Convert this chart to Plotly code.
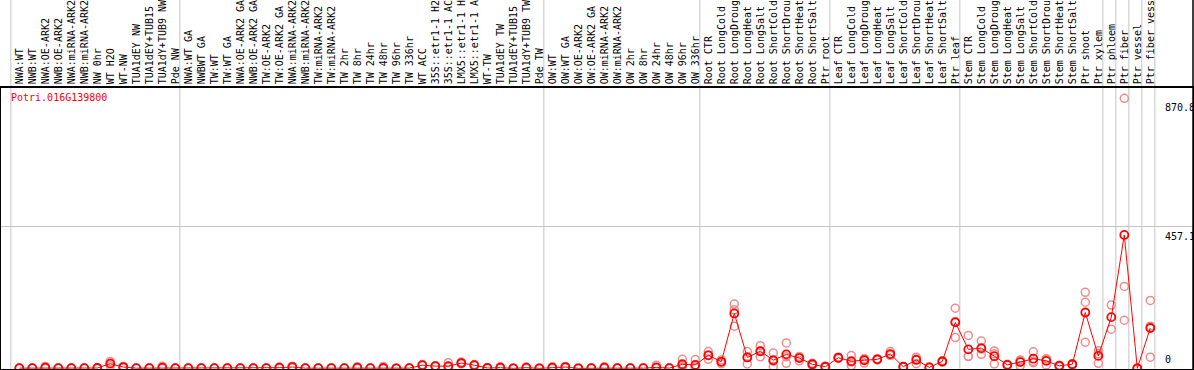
import plotly.graph_objects as go

gene = "Potri.016G139800"

g_nw = ["NWA:WT", "NWB:WT", "NWA:OE-ARK2", "NWB:OE-ARK2", "NWA:miRNA-ARK2", "NWB:miRNA-ARK2",
        "NW 0hr", "WT H2O", "WT-NW", "TUA1dEY NW", "TUA1dEY+TUB15 NW", "TUA1dY+TUB9 NW", "Pde NW"]
g_tw = ["NWA:WT GA", "NWBWT GA", "TW:WT", "TW:WT GA", "NWA:OE-ARK2 GA", "NWB:OE-ARK2 GA",
        "TW:OE-ARK2", "TW:OE-ARK2 GA", "NWA:miRNA-ARK2", "NWB:miRNA-ARK2", "TW:miRNA-ARK2",
        "TW:miRNA-ARK2", "TW 2hr", "TW 8hr", "TW 24hr", "TW 48hr", "TW 96hr", "TW 336hr", "WT ACC",
        "35S::etr1-1 H2O", "35S::etr1-1 ACC", "LMX5::etr1-1 H2O", "LMX5::etr1-1 ACC", "WT-TW",
        "TUA1dEY TW", "TUA1dEY+TUB15 TW", "TUA1dY+TUB9 TW", "Pde TW"]
g_ow = ["OW:WT", "OW:WT GA", "OW:OE-ARK2", "OW:OE-ARK2 GA", "OW:miRNA-ARK2", "OW:miRNA-ARK2",
        "OW 2hr", "OW 8hr", "OW 24hr", "OW 48hr", "OW 96hr", "OW 336hr"]
g_root = ["Root CTR", "Root LongCold", "Root LongDrought", "Root LongHeat", "Root LongSalt",
          "Root ShortCold", "Root ShortDrought", "Root ShortHeat", "Root ShortSalt", "Ptr root"]
g_leaf = ["Leaf CTR", "Leaf LongCold", "Leaf LongDrought", "Leaf LongHeat", "Leaf LongSalt",
          "Leaf ShortCold", "Leaf ShortDrought", "Leaf ShortHeat", "Leaf ShortSalt", "Ptr leaf"]
g_stem = ["Stem CTR", "Stem LongCold", "Stem LongDrought", "Stem LongHeat", "Stem LongSalt",
          "Stem ShortCold", "Stem ShortDrought", "Stem ShortHeat", "Stem ShortSalt", "Ptr shoot", "Ptr xylem"]
g_p1 = ["Ptr phloem"]
g_p2 = ["Ptr fiber"]
g_p3 = ["Ptr vessel"]
g_p4 = ["Ptr fiber vessel"]
groups = [g_nw, g_tw, g_ow, g_root, g_leaf, g_stem, g_p1, g_p2, g_p3, g_p4]

means = [
    0.5, 0.5, 2, 0.5, 0.5, 0.5, 1, 15, 4, 0.5, 0.5, 2, 0.5,
    0.5, 0.5, 0.5, 0.5, 0.5, 0.5, 0.5, 2, 4, 0.5, 0.5, 0.5, 0.5, 2, 0.5, 1, 0, 0.5, 10, 7, 7, 17, 10, 1, 2, 0, 2, 0,
    2, 4, 0, 0.5, 2, 0.5, 0.5, 0.5, 3, 0.5, 13, 11,
    42, 21, 177, 35, 55, 26, 45, 33, 13, 5,
    34, 23, 26, 29, 46, 5, 27, 3, 22, 148,
    61, 65, 39, 11, 20, 31, 24, 8, 13, 180, 40,
    165, 430, 0, 130]

rep1 = [
    1, 1, 6, 1, 1, 1, 2, 22, 6, 1, 1, 7, 1,
    1, 1, 1, 1, 1, 1, 1, 4, 7, 1, 1, 1, 1, 5, 1, 6, 0, 1, 12, 8, 18, 20, 12, 2, 5, 0, 4, 0,
    5, 6, 0, 1, 5, 1, 1, 1, 10, 1, 29, 28,
    54, 27, 207, 54, 73, 49, 82, 37, 16, 7,
    36, 41, 17, 31, 54, 6, 36, 4, 24, 194,
    106, 88, 56, 13, 27, 53, 11, 10, 15, 245, 57,
    204, 870.8, 0, 219]

rep2 = [
    0, 0, 0, 0, 0, 0, 0, 16, 2, 0, 0, 0, 0,
    0, 0, 0, 0, 0, 0, 0, 1, 2, 0, 0, 0, 0, 0, 0, 0, 0, 0, 8, 6, 3, 14, 8, 0, 0, 0, 0, 0,
    0, 2, 0, 0, 0, 0, 0, 0, 0, 0, 3, 2,
    29, 15, 189, 14, 37, 6, 16, 24, 10, 3,
    32, 8, 30, 27, 42, 4, 15, 2, 20, 99,
    39, 45, 14, 9, 8, 18, 30, 6, 11, 213, 16,
    126, 264, 0, 136]

rep3 = [
    None, None, None, None, None, None, None, 8, None, None, None, None, None,
    None, None, None, None, None, None, None, None, None, None, None, None, None, None, None, None,
    None, None, None, None, None, None, None, None, None, None, None, None,
    None, None, None, None, None, None, None, None, None, None, 8, 4,
    43, 21, 136, 37, 55, 23, 37, 38, 13, None,
    34, 20, 31, None, 42, None, 30, None, None, 151,
    38, 62, 47, None, 25, 22, 31, None, None, 84, 47,
    None, 155, None, 36]

y_marks = [870.8, 457.1, 0]

# ---------------- layout geometry ----------------
W, H = 1194, 370
L, R, T, B = 1, 1, 88, 1
first_px, step_px = 19.3, 13.0       # pixel centre of first category, spacing
zero_px, max_px = 368.3, 98.3        # pixel rows of value 0 and of the maximum mark
plot_h = H - T - B

labels = [lab for g in groups for lab in g]
xs = list(range(len(labels)))

xr = [(L - first_px) / step_px, (W - R - first_px) / step_px]
k = (zero_px - max_px) / max(y_marks)
yr = [(zero_px - (H - B)) / k, (zero_px - T) / k]

RED = "#FF0000"
PINK = "rgb(238,140,140)"
GRID = "#C4C4C4"
FONT = "DejaVu Sans Mono"

rx, ry = [], []
for arr in (rep1, rep2, rep3):
    for i, v in enumerate(arr):
        if v is not None:
            rx.append(i)
            ry.append(v)

fig = go.Figure()
fig.add_trace(go.Scatter(x=rx, y=ry, mode="markers",
                         marker=dict(symbol="circle-open", size=8, color=PINK, line=dict(width=1.5, color=PINK)),
                         hoverinfo="skip", showlegend=False))
fig.add_trace(go.Scatter(x=xs, y=means, mode="lines+markers",
                         line=dict(color=RED, width=1),
                         marker=dict(symbol="circle-open", size=8, color=RED, line=dict(width=1.8, color=RED)),
                         showlegend=False))

top_paper = (H - B) / plot_h  # paper y of image top
shapes = []
start = 0
bounds = [0]
for g in groups:
    start += len(g)
    bounds.append(start)
for b in bounds:
    shapes.append(dict(type="line", xref="x", yref="paper", x0=b - 0.65, x1=b - 0.65,
                       y0=0, y1=top_paper, line=dict(color=GRID, width=1), layer="below"))
shapes.append(dict(type="line", xref="paper", yref="paper", x0=1, x1=1, y0=0, y1=top_paper,
                   line=dict(color="black", width=1.5)))

annotations = [dict(text=gene, xref="paper", yref="paper", x=(9 - L) / (W - L - R),
                    y=(H - B - 97.7) / plot_h, xanchor="left", yanchor="middle", showarrow=False,
                    font=dict(family=FONT, size=10, color=RED))]
for v in y_marks:
    annotations.append(dict(text=str(v if v else 0), xref="paper", yref="y",
                            x=(1163 - L) / (W - L - R), y=v, xanchor="left",
                            yanchor="top" if v > 0 else "bottom",
                            yshift=-2 if v > 0 else 1, showarrow=False,
                            font=dict(family=FONT, size=10, color="black")))

fig.update_layout(
    width=W, height=H, margin=dict(l=L, r=R, t=T, b=B, pad=0),
    paper_bgcolor="white", plot_bgcolor="white",
    shapes=shapes, annotations=annotations, showlegend=False,
    xaxis=dict(range=xr, side="top", tickmode="array", tickvals=xs, ticktext=labels,
               tickangle=-90, tickfont=dict(family=FONT, size=10, color="black"),
               ticks="", showgrid=False, zeroline=False, showline=True, mirror=True,
               linecolor="black", linewidth=1.5, automargin=False, fixedrange=True),
    yaxis=dict(range=yr, tickmode="array", tickvals=[y_marks[1]], showticklabels=False,
               showgrid=True, gridcolor=GRID, gridwidth=1, zeroline=False, ticks="",
               showline=True, mirror=True, linecolor="black", linewidth=1.5,
               automargin=False, fixedrange=True),
)

fig.write_html("out.html", config={"displayModeBar": False},
               post_script="document.body.style.margin='0';document.body.style.overflow='hidden';")
